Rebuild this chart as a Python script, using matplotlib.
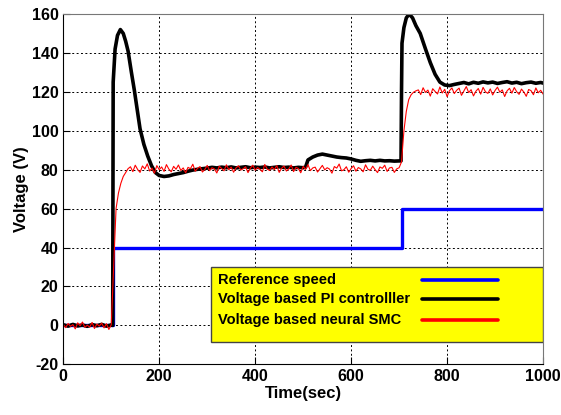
import numpy as np
import matplotlib
matplotlib.use("Agg")
import matplotlib.pyplot as plt
from matplotlib.patches import Rectangle

# reference speed (step input)
ref_t = [0, 103, 705, 1000]
ref_v = [0, 40, 60, 60]

# voltage based PI controller
pi_t = [0, 10, 20, 30, 40, 50, 60, 70, 80, 90, 100, 103, 104, 108, 113, 119,
        125, 130, 135, 142, 148, 154, 160, 168, 176, 184, 192, 200, 210, 220,
        230, 240, 250, 260, 270, 280, 290, 300, 310, 320, 330, 340, 350, 360,
        370, 380, 390, 400, 410, 420, 430, 440, 450, 460, 470, 480, 490, 500,
        505, 510, 520, 530, 540, 550, 560, 570, 580, 590, 600, 610, 620, 630,
        640, 650, 660, 670, 680, 690, 700, 704, 705, 706, 710, 715, 721, 728,
        735, 744, 755, 765, 775, 785, 795, 805, 815, 825, 835, 845, 855, 865,
        875, 885, 895, 905, 915, 925, 935, 945, 955, 965, 975, 985, 995, 1000]
pi_v = [0.3, -0.4, 0.5, -0.3, 0.2, -0.5, 0.4, -0.2, 0.5, -0.4, 0.2, 0.0, 125, 142, 149, 152,
        150, 146, 141, 130, 121, 111, 101, 93, 87, 82, 78.5, 77, 76.5, 76.8,
        77.5, 78, 78.5, 79.2, 79.8, 80.2, 80.5, 80.8, 81.2, 80.9, 81.3, 81.0, 81.4, 80.9,
        81.2, 81.5, 81.0, 81.3, 81.1, 81.4, 80.9, 81.2, 81.5, 81.1, 81.3, 80.9, 81.2, 81.0,
        81.3, 85, 86.5, 87.5, 88, 87.5, 87, 86.5, 86.2, 86, 85.5, 84.8, 84.3, 84.6,
        84.8, 84.5, 84.8, 84.5, 84.6, 84.4, 84.5, 84.5, 120, 145, 153, 158, 160, 158,
        154, 150, 142, 135, 129, 125, 123.5, 123.2, 123.8, 124.3, 124.8, 124.1, 124.9, 124.4,
        125.1, 124.6, 125.0, 124.3, 124.8, 125.2, 124.5, 124.9, 124.2, 124.7, 125.0, 124.4, 124.8, 124.5]

# voltage based neural SMC, sampled every 5 s
smc_t = np.arange(0, 1001, 5)
smc_v = [0.6, -1.2, 1.0, -0.5, 0.4, -1.8, 1.3, -0.2, 1.7, -1.0, 0.1, -0.9, 1.5, -1.6, 0.7,
         -0.4, 1.2, -1.3, 0.9, -2.1, 0.3,
         30, 60, 68, 73, 76.5, 78.5, 80.5,
         81.5, 79.0, 82.3, 80.1, 78.6, 81.9, 80.4, 83.0, 79.3, 80.8,
         78.2, 82.1, 80.0, 81.4, 79.1, 82.6, 80.3, 78.9, 81.7, 80.2,
         82.4, 79.6, 80.9, 78.4, 81.2, 80.5, 82.8, 79.2, 80.7, 81.6,
         78.8, 80.1, 82.2, 79.5, 81.0, 80.4, 78.3, 81.8, 80.6, 79.4,
         82.5, 80.0, 81.3, 78.7, 80.9, 82.0, 79.8, 80.5, 81.5, 78.5,
         80.8, 82.3, 79.7, 81.1, 80.2, 78.9, 82.7, 80.3, 79.6, 81.4,
         80.0, 82.1, 78.6, 80.7, 81.9, 79.3, 80.4, 82.4, 79.0, 81.2,
         80.6, 78.4, 81.7, 80.1, 82.6, 79.5, 80.9, 81.3, 78.8, 80.5,
         82.2, 79.9, 81.0, 80.3, 78.2, 81.6, 80.8, 82.9, 79.4, 80.0,
         81.5, 78.7, 80.6, 82.0, 79.2, 81.1, 80.4, 78.9, 82.5, 80.2,
         79.7, 81.8, 80.0, 78.5, 81.4, 80.7, 82.3, 79.1, 80.9, 81.2,
         78.6, 80.4, 81.0,
         84, 100, 110, 116, 118.5, 119.8, 120.5,
         121.0, 118.6, 122.1, 119.7, 120.9, 117.8, 121.6, 120.2, 118.9, 122.5,
         119.4, 121.3, 117.5, 120.6, 122.0, 119.1, 120.8, 121.9, 118.2, 120.4,
         122.7, 119.6, 121.1, 117.9, 120.3, 121.7, 118.8, 122.3, 120.0, 119.2,
         121.5, 118.4, 120.7, 122.4, 119.8, 121.0, 117.6, 120.5, 121.8, 119.3,
         122.2, 120.1, 118.7, 121.4, 119.9, 117.7, 121.2, 120.6, 118.5, 122.0,
         119.5, 120.8, 118.9]

labels = ["Reference speed", "Voltage based PI controlller", "Voltage based neural SMC"]
colors = ["#0000ff", "black", "#ff0000"]

plt.rcParams["font.family"] = ["Liberation Sans", "DejaVu Sans"]
plt.rcParams["font.weight"] = "bold"
plt.rcParams["axes.unicode_minus"] = False

fig = plt.figure(figsize=(5.61, 4.15), dpi=100)
ax = fig.add_axes([0.1128, 0.1222, 0.8552, 0.8441])

ax.plot(ref_t, ref_v, color=colors[0], lw=2.4, drawstyle="steps-post")
ax.plot(pi_t, pi_v, color=colors[1], lw=2.6)
ax.plot(smc_t, smc_v, color=colors[2], lw=0.8)

ax.set_xlim(0, 1000)
ax.set_ylim(-20, 160)
ax.set_xticks(range(0, 1001, 200))
ax.set_yticks(range(-20, 161, 20))
ax.grid(True, color="black", linestyle=(0, (2, 2.5)), linewidth=0.7)
ax.tick_params(direction="in", length=5, labelsize=11.5, width=0.8)
for lab in ax.get_xticklabels() + ax.get_yticklabels():
    lab.set_fontweight("bold")
for s in ["top", "right"]:
    ax.spines[s].set_color("#777777")
ax.set_xlabel("Time(sec)", fontsize=12, fontweight="bold", labelpad=1)
ax.set_ylabel("Voltage (V)", fontsize=12, fontweight="bold", labelpad=2)

# legend drawn by hand: text left, line right
ax.add_patch(Rectangle((0.308, 0.0645), 0.6914, 0.2141, transform=ax.transAxes,
                       facecolor="#ffff00", edgecolor="#444444", lw=1.0, zorder=5))
rows = [0.2407, 0.1856, 0.1265]
for lab, c, yy in zip(labels, colors, rows):
    ax.text(0.3225, yy, lab, transform=ax.transAxes, fontsize=10.5, fontweight="bold",
            va="center", ha="left", zorder=6)
    ax.plot([0.747, 0.9056], [yy, yy], transform=ax.transAxes, color=c, lw=2.6,
            solid_capstyle="round", zorder=6)

fig.savefig("out.png", dpi=100)
